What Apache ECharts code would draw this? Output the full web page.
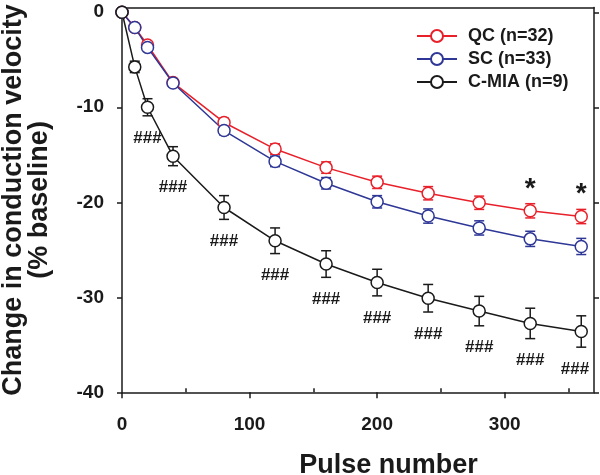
<!DOCTYPE html>
<html><head><meta charset="utf-8">
<script src="https://cdn.jsdelivr.net/npm/echarts@6/dist/echarts.min.js"></script>
<style>html,body{margin:0;padding:0;background:#fff}#c{width:600px;height:475px}</style>
</head><body><div id="c"></div>
<script>
const pulses = [0,10,20,40,80,120,160,200,240,280,320,360];
const qcMean = [0,-1.6,-3.45,-7.4,-11.6,-14.4,-16.35,-17.9,-19.05,-20.05,-20.9,-21.5];
const qcErr  = [0,0.2,0.3,0.35,0.45,0.55,0.6,0.65,0.7,0.7,0.75,0.75];
const scMean = [0,-1.6,-3.7,-7.45,-12.45,-15.7,-18.0,-19.95,-21.45,-22.7,-23.85,-24.65];
const scErr  = [0,0.2,0.3,0.35,0.45,0.55,0.6,0.65,0.75,0.75,0.8,0.85];
const miaMean = [0,-5.75,-10.0,-15.15,-20.55,-24.05,-26.5,-28.45,-30.1,-31.45,-32.75,-33.6];
const miaErr  = [0,0.6,0.9,1.0,1.25,1.35,1.4,1.4,1.45,1.55,1.6,1.65];
const seriesNames = ['QC (n=32)','SC (n=33)','C-MIA (n=9)'];
const xTicks = [0,100,200,300];
const xMinorTicks = [50,150,250,350];
const yTicks = [-40,-30,-20,-10,0];
const hashX = [20,40,80,120,160,200,240,280,320,360];
const starX = [320,360];

const RED='#e8202a', BLUE='#2e3796', BLACK='#1a1a1a';
const FONT='"Liberation Sans", Arial, sans-serif';

function errorSeries(means, errs, color){
  return {type:'custom', xAxisIndex:0, yAxisIndex:0, z:2, silent:true,
    data: pulses.map((x,i)=>[x, means[i]-errs[i], means[i]+errs[i]]),
    renderItem(params, api){
      const x=api.value(0);
      const lo=api.coord([x, api.value(1)]);
      const hi=api.coord([x, api.value(2)]);
      const w=5, st={stroke:color, lineWidth:1.5, fill:null};
      return {type:'group', children:[
        {type:'line', shape:{x1:lo[0],y1:lo[1],x2:hi[0],y2:hi[1]}, style:st},
        {type:'line', shape:{x1:lo[0]-w,y1:lo[1],x2:lo[0]+w,y2:lo[1]}, style:st},
        {type:'line', shape:{x1:hi[0]-w,y1:hi[1],x2:hi[0]+w,y2:hi[1]}, style:st}
      ]};
    }};
}
function lineSeries(name, means, color){
  return {type:'line', name, xAxisIndex:0, yAxisIndex:0, z:3,
    data: pulses.map((x,i)=>[x, means[i]]),
    symbol:'circle', symbolSize:12,
    itemStyle:{color:'#fff', borderColor:color, borderWidth:1.5},
    lineStyle:{color, width:1.5}, emphasis:{disabled:true}};
}

const chart = echarts.init(document.getElementById('c'), null, {renderer:'canvas'});
chart.setOption({
  animation:false,
  backgroundColor:'#fff',
  grid:{left:122, right:6, top:7.5, bottom:82.7, containLabel:false, outerBoundsMode:'none'},
  legend:{
    data:seriesNames, orient:'vertical', left:411, top:22, itemWidth:40, itemHeight:15, itemGap:5,
    textStyle:{fontFamily:FONT, fontWeight:'bold', fontSize:18, color:BLACK, padding:[0,0,0,6]}
  },
  xAxis:[
    {type:'value', position:'bottom', min:0, max:370,
     axisLine:{onZero:false, lineStyle:{color:BLACK, width:1.5}},
     axisTick:{customValues:xTicks, length:6, lineStyle:{color:BLACK, width:1.5}},
     axisLabel:{customValues:xTicks, fontFamily:FONT, fontWeight:'bold', fontSize:19, color:BLACK, margin:23},
     splitLine:{show:false},
     name:'Pulse number', nameLocation:'middle', nameGap:60,
     nameTextStyle:{fontFamily:FONT, fontWeight:'bold', fontSize:27, color:BLACK, padding:[0,0,0,61]}},
    {type:'value', position:'bottom', min:0, max:370,
     axisLine:{show:false, onZero:false},
     axisTick:{inside:true, customValues:xMinorTicks, length:4, lineStyle:{color:BLACK, width:1.5}},
     axisLabel:{show:false}, splitLine:{show:false}},
    {type:'value', position:'top', min:0, max:370,
     axisLine:{onZero:false, lineStyle:{color:BLACK, width:1.5}},
     axisTick:{show:false}, axisLabel:{show:false}, splitLine:{show:false}}
  ],
  yAxis:[
    {type:'value', position:'left', min:-40, max:0.5,
     axisLine:{onZero:false, lineStyle:{color:BLACK, width:1.5}},
     axisTick:{customValues:yTicks, length:5, lineStyle:{color:BLACK, width:1.5}},
     axisLabel:{customValues:yTicks, fontFamily:FONT, fontWeight:'bold', fontSize:19, color:BLACK, margin:18},
     splitLine:{show:false},
     name:'Change in conduction velocity\n(% baseline)', nameLocation:'middle', nameGap:69, nameRotate:90,
     nameTextStyle:{fontFamily:FONT, fontWeight:'bold', fontSize:27, lineHeight:26, color:BLACK, align:'center'}},
    {type:'value', position:'right', min:-40, max:0.5,
     axisLine:{onZero:false, lineStyle:{color:BLACK, width:1.5}},
     axisTick:{customValues:yTicks, length:5, lineStyle:{color:BLACK, width:1.5}},
     axisLabel:{show:false}, splitLine:{show:false}}
  ],
  series:[
    errorSeries(qcMean, qcErr, RED),
    errorSeries(scMean, scErr, BLUE),
    errorSeries(miaMean, miaErr, BLACK),
    lineSeries(seriesNames[0], qcMean, RED),
    lineSeries(seriesNames[1], scMean, BLUE),
    lineSeries(seriesNames[2], miaMean, BLACK),
    {type:'custom', z:4, silent:true,
     data: hashX.map(x=>{const i=pulses.indexOf(x); return [x, miaMean[i]-miaErr[i]];}),
     renderItem(params, api){
       const p=api.coord([api.value(0), api.value(1)]);
       const right=params.coordSys.x+params.coordSys.width;
       const cx=Math.min(p[0], right-19);
       return {type:'text', x:cx, y:p[1]+22,
         style:{text:'###', font:'bold 17px "Liberation Sans", Arial', fill:BLACK, align:'center', verticalAlign:'middle'}};
     }},
    {type:'custom', z:4, silent:true,
     data: starX.map(x=>{const i=pulses.indexOf(x); return [x, qcMean[i]];}),
     renderItem(params, api){
       const p=api.coord([api.value(0), api.value(1)]);
       return {type:'text', x:p[0], y:p[1]-22,
         style:{text:'*', font:'bold 28px "Liberation Sans", Arial', fill:BLACK, align:'center', verticalAlign:'middle'}};
     }}
  ]
});
</script></body></html>
